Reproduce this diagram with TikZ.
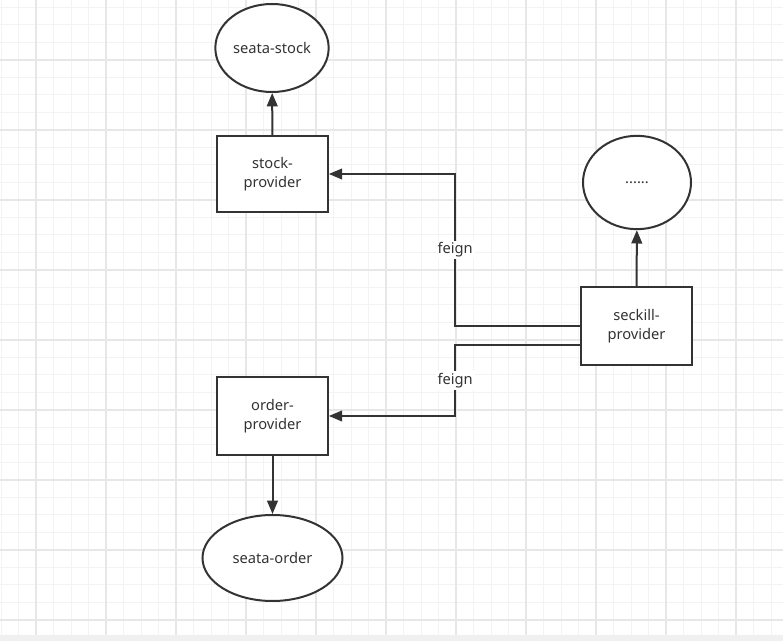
\documentclass[tikz,border=0pt]{standalone}
\usepackage{fontspec}
\setmainfont{Noto Sans}
\usepackage{xcolor}
\usepackage{tikz}
\usetikzlibrary{arrows.meta, positioning, shapes.geometric}
\definecolor{gridminor}{HTML}{F3F3F3}
\definecolor{gridmajor}{HTML}{E7E7E7}
\definecolor{ink}{HTML}{333333}
\definecolor{band}{HTML}{F0F0F0}

\begin{document}
\begin{tikzpicture}[x=0.75pt, y=-0.75pt, font=\fontsize{11}{14}\selectfont,
  svc/.style={draw=ink, line width=1.5pt, fill=white, minimum width=83pt, minimum height=57pt, align=center, text=ink},
  db/.style={draw=ink, line width=1.5pt, fill=white, ellipse, inner sep=0pt, align=center, text=ink},
  call/.style={draw=ink, line width=1.5pt, -{Triangle[length=10pt,width=8pt]}},
  lbl/.style={fill=white, inner sep=1.5pt, text=ink}]
\useasboundingbox (0,0) rectangle (783,641);
% grid
\foreach \x in {1,18.5,...,783} \draw[gridminor, line width=0.75pt] (\x,0) -- (\x,635);
\foreach \y in {7.5,25,...,635} \draw[gridminor, line width=0.75pt] (0,\y) -- (783,\y);
\foreach \x in {36,106,...,783} \draw[gridmajor, line width=1pt] (\x,0) -- (\x,635);
\foreach \y in {60,130,...,635} \draw[gridmajor, line width=1pt] (0,\y) -- (783,\y);
\fill[band] (0,635) rectangle (783,641);

\node [db, minimum width=85pt, minimum height=66pt] (stockdb) at (272,48) {seata-stock};
\node [svc] (stock) at (272.5,174) {stock-\\provider};
\node [db, minimum width=81pt, minimum height=70pt] (more) at (637,182.5) {......};
\node [svc, minimum height=58.5pt] (seckill) at (636.5,326) {seckill-\\provider};
\node [svc, minimum height=58.5pt] (order) at (272.5,416) {order-\\provider};
\node [db, minimum width=105pt, minimum height=64.5pt] (orderdb) at (272.5,558) {seata-order};

\draw [call] (stock) -- (stockdb);
\draw [call] (seckill) -- (more);
\draw [call] (order) -- (orderdb);
\draw [call] (seckill.west) -- ++(-125,0) |- node[lbl, pos=0.25]{feign} (stock.east);
\draw [call] ([yshift=-14pt]seckill.west) -- ++(-125,0) |- node[lbl, pos=0.25]{feign} (order.east);
\end{tikzpicture}
\end{document}
